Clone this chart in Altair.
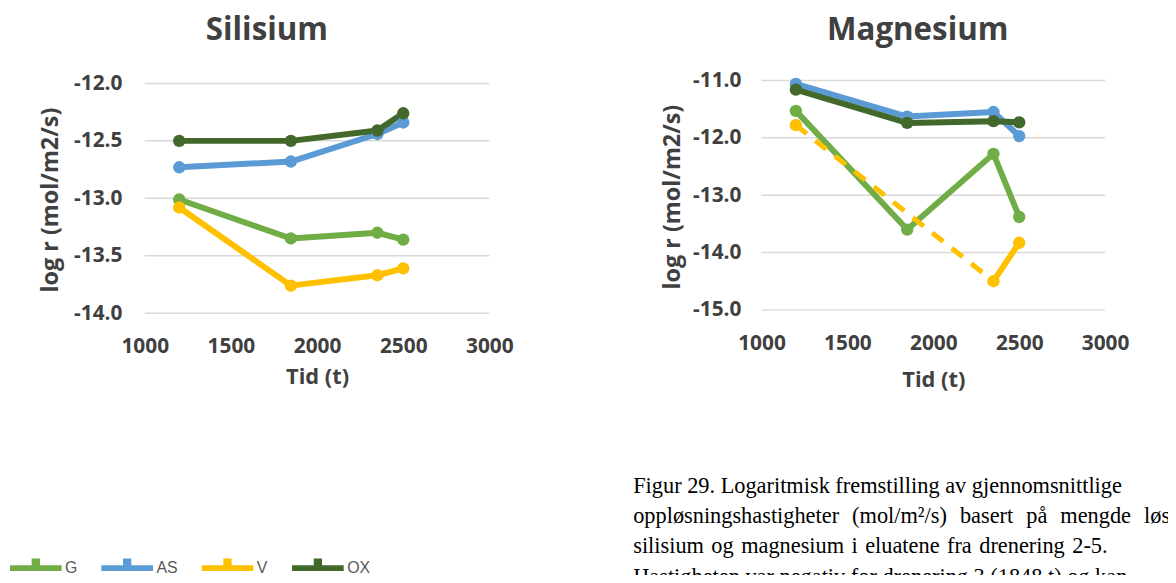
import altair as alt
import pandas as pd

# ---------------- data ----------------
series = ["G", "AS", "V", "OX"]
colors = ["#70AD47", "#5B9BD5", "#FFC000", "#43682B"]
tid = [1200, 1848, 2350, 2500]

si_G = [-13.01, -13.35, -13.30, -13.36]
si_AS = [-12.73, -12.68, -12.44, -12.34]
si_V = [-13.08, -13.76, -13.67, -13.61]
si_OX = [-12.50, -12.50, -12.41, -12.26]

mg_G = [-11.53, -13.60, -12.28, -13.38]
mg_AS = [-11.06, -11.63, -11.55, -11.97]
mg_V = [-11.78, None, -14.50, -13.83]
mg_OX = [-11.16, -11.74, -11.71, -11.73]

si_ticks = [-14.0, -13.5, -13.0, -12.5, -12.0]
mg_ticks = [-15.0, -14.0, -13.0, -12.0, -11.0]
x_ticks = [1000, 1500, 2000, 2500, 3000]

# justified caption lines: widened word gaps
GAP2 = " \u2005\u200a"
GAP3 = " \u200a"
caption_lines = [
    "Figur 29. Logaritmisk fremstilling av gjennomsnittlige",
    GAP2.join(["oppløsningshastigheter", "(mol/m²/s)", "basert", "på", "mengde", "løs"]),
    GAP3.join(["silisium", "og", "magnesium", "i", "eluatene", "fra", "drenering", "2-5."]),
    "Hastigheten var negativ for drenering 3 (1848 t) og kan",
]


def build(values_by_series):
    """Return (points, solid segments, dashed gap-bridges) tables."""
    pts, solid, dashed = [], [], []
    for s, vals in zip(series, values_by_series):
        seg = 0
        last = None
        gap = False
        for t, v in zip(tid, vals):
            if v is None:
                gap = True
                continue
            pts.append({"t": t, "v": v, "serie": s})
            if gap and last is not None:
                seg += 1
                dashed.append({"t": last[0], "v": last[1], "serie": s, "seg": f"{s}{seg}"})
                dashed.append({"t": t, "v": v, "serie": s, "seg": f"{s}{seg}"})
                seg += 1
            solid.append({"t": t, "v": v, "serie": s, "seg": f"{s}s{seg}"})
            last = (t, v)
            gap = False
    return pd.DataFrame(pts), pd.DataFrame(solid), pd.DataFrame(dashed)


W, H = 1168, 567
FONT = "Open Sans"
TXT = "#404040"
color_scale = alt.Scale(domain=series, range=colors)
minus_fix = "(datum.value < 0 ? '-' : '') + format(abs(datum.value), '.1f')"


def panel(vals, ticks, xr, yr, ydom, ylab_pad, ytitle_x, ytitle_y, xtitle_y, show_legend):
    pts, solid, dashed = build(vals)
    xs = alt.Scale(domain=[1000, 3000], range=xr, nice=False, zero=False)
    ys = alt.Scale(domain=ydom, range=yr, nice=False, zero=False)
    x_axis = alt.Axis(
        orient="bottom", offset=yr[0] - H, values=x_ticks, format="d",
        domain=False, ticks=False, grid=False, labelFlush=False, labelOverlap=False,
        labelFont=FONT, labelFontWeight="bold", labelFontSize=21, labelColor=TXT, labelPadding=23,
        title="Tid (t)", titleFont=FONT, titleFontWeight="bold", titleFontSize=22, titleColor=TXT,
        titleBaseline="middle", titleY=xtitle_y,
    )
    y_axis = alt.Axis(
        orient="left", offset=-xr[0], values=ticks, labelExpr=minus_fix,
        domain=False, ticks=False, grid=False, labelFlush=False, labelOverlap=False,
        labelFont=FONT, labelFontWeight="bold", labelFontSize=21, labelColor=TXT, labelPadding=ylab_pad,
        title="log r (mol/m2/s)", titleFont=FONT, titleFontWeight="bold", titleFontSize=23.5,
        titleColor=TXT, titleAngle=270, titleAlign="center", titleBaseline="middle",
        titleX=ytitle_x, titleY=ytitle_y,
    )
    layers = []
    if show_legend:
        # invisible first colour layer that carries the shared legend
        legend = alt.Legend(
            title=None, orient="none", direction="horizontal", legendX=2, legendY=536,
            padding=0, columnPadding=24, labelOffset=3.5,
            symbolType="M-1,-0.11L-0.16,-0.11L-0.16,-0.37L0.16,-0.37L0.16,-0.11L1,-0.11L1,0.11L-1,0.11Z",
            symbolSize=2704, symbolStrokeWidth=0, symbolOpacity=1,
            labelFont="Liberation Sans", labelFontSize=16, labelColor="#595959",
        )
        layers.append(
            alt.Chart(pts).mark_point(filled=True, size=0, opacity=1, strokeWidth=0).encode(
                x=alt.X("t:Q", scale=xs, axis=None),
                y=alt.Y("v:Q", scale=ys, axis=None),
                color=alt.Color("serie:N", scale=color_scale, legend=legend),
            )
        )
    grid = alt.Chart(pd.DataFrame({"g": ticks})).mark_rule(color="#D9D9D9", strokeWidth=1.5).encode(
        y=alt.Y("g:Q", scale=ys, axis=None),
        x=alt.X(datum=1000, type="quantitative", scale=xs, axis=None),
        x2=alt.X2(datum=3000),
    )
    lines = alt.Chart(solid).mark_line(strokeWidth=6, strokeJoin="round", strokeCap="round").encode(
        x=alt.X("t:Q", scale=xs, axis=x_axis),
        y=alt.Y("v:Q", scale=ys, axis=y_axis),
        color=alt.Color("serie:N", scale=color_scale, legend=None),
        detail="seg:N",
    )
    layers += [grid, lines]
    if len(dashed):
        dash = alt.Chart(dashed).mark_line(strokeWidth=5, strokeDash=[14, 11], strokeCap="butt").encode(
            x=alt.X("t:Q", scale=xs, axis=None),
            y=alt.Y("v:Q", scale=ys, axis=None),
            color=alt.Color("serie:N", scale=color_scale, legend=None),
            detail="seg:N",
        )
        layers.append(dash)
    points = alt.Chart(pts).mark_point(filled=True, size=155, opacity=1, strokeWidth=0).encode(
        x=alt.X("t:Q", scale=xs, axis=None),
        y=alt.Y("v:Q", scale=ys, axis=None),
        color=alt.Color("serie:N", scale=color_scale, legend=None),
    )
    layers.append(points)
    return layers


left = panel([si_G, si_AS, si_V, si_OX], si_ticks, [137.7, 484.7], [305.3, 74.0], [-14, -12],
             23, -94.7, 191, 63.4, True)
right = panel([mg_G, mg_AS, mg_V, mg_OX], mg_ticks, [758.7, 1104.7], [302.0, 71.0], [-15, -11],
              20.7, -89.7, 188, 70, False)

one = pd.DataFrame({"a": [0]})
title_si = alt.Chart(one).mark_text(
    text="Silisium", font=FONT, fontWeight="bold", fontSize=31.5, color=TXT,
    align="center", baseline="alphabetic",
).encode(x=alt.value(260.7), y=alt.value(30.3))
title_mg = alt.Chart(one).mark_text(
    text="Magnesium", font=FONT, fontWeight="bold", fontSize=31.5, color=TXT,
    align="center", baseline="alphabetic",
).encode(x=alt.value(916), y=alt.value(30.3))
caption = alt.Chart(one).mark_text(
    text=caption_lines, font="Liberation Serif", fontSize=22.5, color="#000000",
    align="left", baseline="alphabetic", lineHeight=30.3,
).encode(x=alt.value(629.5), y=alt.value(486.7))

chart = alt.layer(*left, *right, title_si, title_mg, caption).resolve_scale(
    x="independent", y="independent", color="shared"
).properties(
    width=W, height=H, padding=0, autosize=alt.AutoSizeParams(type="none"), background="white"
).configure_view(stroke=None)

chart.save("out.html", embed_options={"renderer": "svg", "actions": False})
